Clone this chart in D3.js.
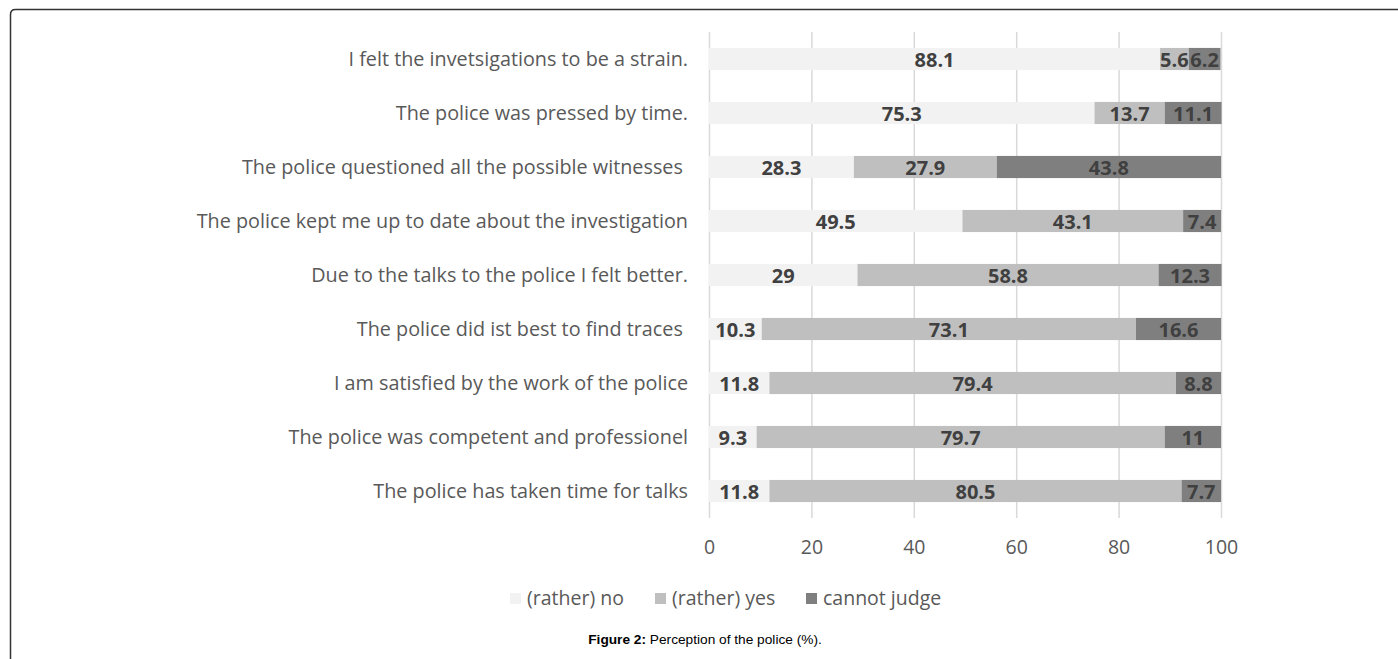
<!DOCTYPE html>
<html>
<head>
<meta charset="utf-8">
<script src="https://cdn.jsdelivr.net/npm/d3@7"></script>
<style>
  body { margin: 0; background: #fff; }
  svg text { white-space: pre; }
</style>
</head>
<body>
<div id="chart"></div>
<script>
const width = 1398
const height = 659

const categories = [
  'I felt the invetsigations to be a strain.',
  'The police was pressed by time.',
  'The police questioned all the possible witnesses ',
  'The police kept me up to date about the investigation',
  'Due to the talks to the police I felt better.',
  'The police did ist best to find traces ',
  'I am satisfied by the work of the police',
  'The police was competent and professionel',
  'The police has taken time for talks'
]
const ratherNo = [88.1, 75.3, 28.3, 49.5, 29, 10.3, 11.8, 9.3, 11.8]
const ratherYes = [5.6, 13.7, 27.9, 43.1, 58.8, 73.1, 79.4, 79.7, 80.5]
const cannotJudge = [6.2, 11.1, 43.8, 7.4, 12.3, 16.6, 8.8, 11, 7.7]
const seriesNames = ['(rather) no', '(rather) yes', 'cannot judge']
const xTicks = [0, 20, 40, 60, 80, 100]

const colors = ['#f2f2f2', '#bfbfbf', '#7f7f7f']
const font = '"Open Sans", sans-serif'

const rows = categories.map((c, i) => ({
  cat: c, no: ratherNo[i], yes: ratherYes[i], cj: cannotJudge[i]
}))
const stack = d3.stack().keys(['no', 'yes', 'cj'])(rows)

const svg = d3.select('#chart').append('svg')
  .attr('width', width)
  .attr('height', height)

// frame
svg.append('path')
  .attr('d', 'M10.5,' + (height + 5) + ' V14.5 Q10.5,9.5 15.5,9.5 H' + (width + 5))
  .attr('fill', 'none')
  .attr('stroke', '#333')
  .attr('stroke-width', 1.5)

const x = d3.scaleLinear().domain([0, 100]).range([709, 1221])
const y = d3.scaleBand().domain(categories).range([32, 518]).paddingInner(0.59).paddingOuter(0.295)

// grid
svg.append('g')
  .attr('transform', 'translate(0,518)')
  .call(d3.axisBottom(x).tickValues(xTicks).tickSize(-486).tickFormat(''))
  .call(g => g.select('.domain').remove())
  .call(g => g.selectAll('line').attr('stroke', '#d9d9d9').attr('stroke-width', 1.5))

// tick labels
svg.append('g')
  .attr('transform', 'translate(0,518)')
  .call(d3.axisBottom(x).tickValues(xTicks).tickSize(0).tickPadding(22))
  .call(g => g.select('.domain').remove())
  .call(g => g.selectAll('text')
    .attr('font-family', font).attr('font-size', 19.5).attr('fill', '#595959'))

// category labels
svg.append('g')
  .selectAll('text')
  .data(categories)
  .join('text')
  .attr('x', 688)
  .attr('y', d => y(d) + y.bandwidth() / 2)
  .attr('dy', '0.35em')
  .attr('text-anchor', 'end')
  .attr('font-family', font)
  .attr('font-size', 19.8)
  .attr('fill', '#595959')
  .text(d => d)

// bars
const layers = svg.append('g')
  .selectAll('g')
  .data(stack)
  .join('g')
  .attr('fill', (d, i) => colors[i])

layers.selectAll('rect')
  .data(d => d)
  .join('rect')
  .attr('x', d => x(d[0]))
  .attr('y', d => y(d.data.cat))
  .attr('width', d => x(d[1]) - x(d[0]))
  .attr('height', y.bandwidth())

layers.selectAll('text')
  .data(d => d)
  .join('text')
  .attr('x', d => (x(d[0]) + x(d[1])) / 2)
  .attr('y', d => y(d.data.cat) + y.bandwidth() / 2)
  .attr('dy', '0.38em')
  .attr('text-anchor', 'middle')
  .attr('font-family', font)
  .attr('font-size', 20)
  .attr('font-weight', 'bold')
  .attr('fill', '#404040')
  .text(d => +(d[1] - d[0]).toFixed(1))

// legend
const legendX = [510, 655, 806]
const legend = svg.append('g')
  .selectAll('g')
  .data(seriesNames)
  .join('g')
  .attr('transform', (d, i) => 'translate(' + legendX[i] + ',593)')
legend.append('rect')
  .attr('width', 11).attr('height', 11)
  .attr('fill', (d, i) => colors[i])
legend.append('text')
  .attr('x', 17).attr('y', 5.5).attr('dy', '0.35em')
  .attr('font-family', font).attr('font-size', 19.5).attr('fill', '#595959')
  .text(d => d)

// caption
const cap = svg.append('text')
  .attr('x', 705).attr('y', 644)
  .attr('text-anchor', 'middle')
  .attr('font-family', '"Liberation Sans", Arial, sans-serif')
  .attr('font-size', 13.7)
  .attr('fill', '#000')
cap.append('tspan').attr('font-weight', 'bold').text('Figure 2:')
cap.append('tspan').text(' Perception of the police (%).')
</script>
</body>
</html>
